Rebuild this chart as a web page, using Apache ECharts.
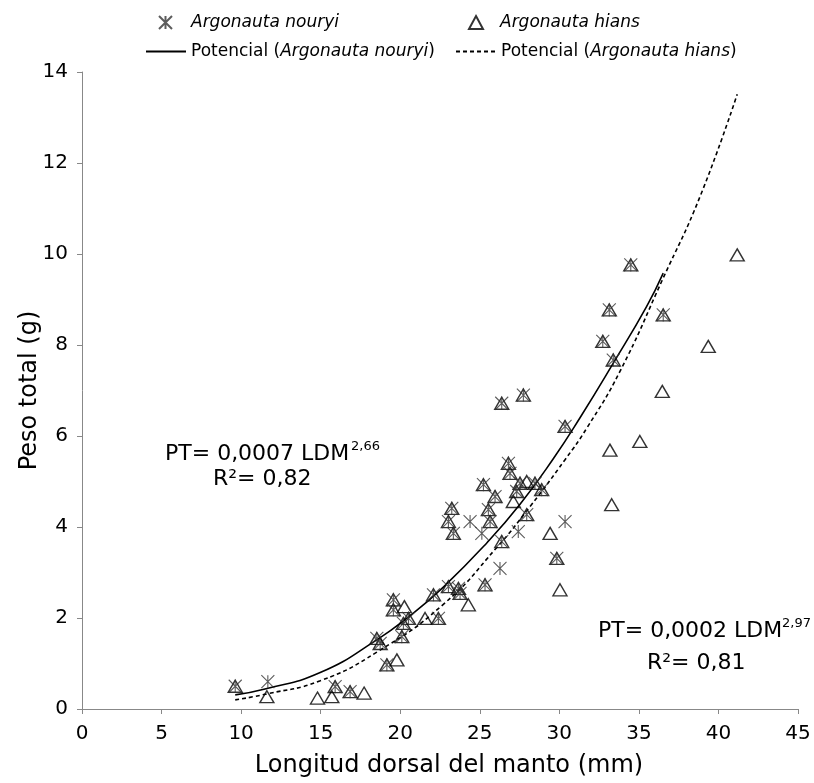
<!DOCTYPE html>
<html>
<head>
<meta charset="utf-8">
<script src="https://cdn.jsdelivr.net/npm/echarts@6/dist/echarts.min.js"></script>
<style>
html,body{margin:0;padding:0;background:#fff;}
#chart{width:814px;height:783px;}
</style>
</head>
<body>
<div id="chart"></div>
<script>
// Argonauta nouryi: [longitud dorsal del manto (mm), peso total (g)]
const nouryiPoints = [
  [9.63,0.50],[15.91,0.49],[16.85,0.38],[19.16,0.97],[18.74,1.44],[18.53,1.55],
  [19.57,2.40],[19.57,2.18],[20.52,1.99],[20.20,1.88],[20.10,1.59],[22.09,2.51],
  [22.40,1.99],[23.03,2.69],[23.66,2.65],[23.76,2.54],[26.80,5.40],[26.90,5.18],
  [25.23,4.93],[27.53,4.96],[28.47,4.96],[28.89,4.82],[27.32,4.78],[25.96,4.67],
  [23.24,4.41],[23.03,4.12],[23.34,3.86],[25.54,4.38],[25.65,4.12],[27.95,4.27],
  [26.38,3.68],[29.84,3.31],[25.33,2.73],[32.73,8.08],[33.39,7.67],[26.38,6.72],
  [27.74,6.90],[30.36,6.21],[34.49,9.76],[33.14,8.77],[36.53,8.66],
  [11.68,0.60],[24.39,4.12],[25.13,3.86],[27.42,3.90],[26.27,3.09],[30.36,4.12]
];
// Argonauta hians
const hiansPoints = [
  [9.63,0.50],[15.91,0.49],[16.85,0.38],[19.16,0.97],[18.74,1.44],[18.53,1.55],
  [19.57,2.40],[19.57,2.18],[20.52,1.99],[20.20,1.88],[20.10,1.59],[22.09,2.51],
  [22.40,1.99],[23.03,2.69],[23.66,2.65],[23.76,2.54],[26.80,5.40],[26.90,5.18],
  [25.23,4.93],[27.53,4.96],[28.47,4.96],[28.89,4.82],[27.32,4.78],[25.96,4.67],
  [23.24,4.41],[23.03,4.12],[23.34,3.86],[25.54,4.38],[25.65,4.12],[27.95,4.27],
  [26.38,3.68],[29.84,3.31],[25.33,2.73],[32.73,8.08],[33.39,7.67],[26.38,6.72],
  [27.74,6.90],[30.36,6.21],[34.49,9.76],[33.14,8.77],[36.53,8.66],
  [11.62,0.27],[14.80,0.24],[15.70,0.27],[17.73,0.35],[19.79,1.08],[20.26,2.25],
  [21.56,1.99],[24.28,2.29],[27.95,5.00],[27.11,4.56],[29.42,3.86],[30.04,2.62],
  [33.29,4.49],[33.18,5.69],[41.18,9.98],[39.36,7.97],[36.47,6.98],[35.06,5.88]
];
// Potential trend lines
const nouryiTrend = [
  [9.63,0.31],[11.5,0.44],[14.97,0.80],[18.53,1.52],[20.62,2.05],[22.71,2.68],
  [25.44,3.65],[27.53,4.50],[29.62,5.50],[31.30,6.40],[33.39,7.60],[35.49,8.85],[36.53,9.58]
];
const hiansTrend = [
  [9.63,0.20],[11.6,0.33],[14.97,0.62],[18.53,1.25],[22.71,2.30],[26.07,3.55],
  [28.16,4.45],[30.36,5.48],[31.72,6.17],[33.81,7.42],[36.5,9.45],[38.84,11.26],[41.18,13.51]
];
const seriesNames = ['Argonauta nouryi','Argonauta hians','Potencial (Argonauta nouryi)','Potencial (Argonauta hians)'];
const xTitle = 'Longitud dorsal del manto (mm)';
const yTitle = 'Peso total (g)';
const eq1 = ['PT= 0,0007 LDM', '2,66', 'R²= 0,82'];
const eq2 = ['PT= 0,0002 LDM', '2,97', 'R²= 0,81'];

const FONT = 'DejaVu Sans';
const asterisk = 'path://M0,0L10,10M10,0L0,10M5,0L5,10';
const chart = echarts.init(document.getElementById('chart'));

function legendFmt(name){
  const m = name.match(/^Potencial \((.*)\)$/);
  if (m) return '{n|Potencial (}{i|' + m[1] + '}{n|)}';
  return '{i|' + name + '}';
}
function mkLegend(name, left, top, iw, pad, isLine){
  const lg = {
    data:[name], left:left, top:top, padding:0, itemWidth:iw, itemHeight:13,
    selectedMode:false, formatter: legendFmt,
    textStyle:{fontFamily:FONT, fontSize:17, color:'#000', padding:[0,0,0,pad],
      rich:{ i:{fontFamily:FONT,fontSize:17,fontStyle:'italic',color:'#000'},
             n:{fontFamily:FONT,fontSize:17,color:'#000'} } }
  };
  if (isLine) lg.itemStyle = {opacity:0};
  return lg;
}
const axisColor = '#888';
chart.setOption({
  animation:false,
  textStyle:{fontFamily:FONT},
  grid:{left:82,right:16,top:72,bottom:73},
  legend:[
    mkLegend(seriesNames[0],158,14,13,14,false),
    mkLegend(seriesNames[1],468,14,14,12,false),
    mkLegend(seriesNames[2],145,43,40,0,true),
    mkLegend(seriesNames[3],455,43,40,0,true)
  ],
  xAxis:{type:'value',min:0,max:45,interval:5,
    name:xTitle,nameLocation:'middle',nameGap:45,
    nameTextStyle:{fontFamily:FONT,fontSize:24,color:'#000',padding:[0,0,0,18]},
    axisLine:{show:true,lineStyle:{color:axisColor,width:1}},
    axisTick:{show:true,length:5,lineStyle:{color:axisColor}},
    axisLabel:{fontFamily:FONT,fontSize:20,color:'#000',margin:15},
    splitLine:{show:false}},
  yAxis:{type:'value',min:0,max:14,interval:2,
    name:yTitle,nameLocation:'middle',nameGap:40,nameMoveOverlap:false,
    nameTextStyle:{fontFamily:FONT,fontSize:24,color:'#000'},
    axisLine:{show:true,lineStyle:{color:axisColor,width:1}},
    axisTick:{show:true,length:5,lineStyle:{color:axisColor}},
    axisLabel:{fontFamily:FONT,fontSize:20,color:'#000',margin:14},
    splitLine:{show:false}},
  series:[
    {name:seriesNames[2],type:'line',data:nouryiTrend,smooth:0.5,symbol:'none',
      lineStyle:{color:'#000',width:1.6,type:'solid'},z:1,silent:true},
    {name:seriesNames[3],type:'line',data:hiansTrend,smooth:0.5,symbol:'none',
      lineStyle:{color:'#000',width:1.6,type:[4,3]},z:1,silent:true},
    {name:seriesNames[1],type:'scatter',data:hiansPoints,symbol:'triangle',symbolSize:[14,12],
      itemStyle:{color:'rgba(255,255,255,0)',borderColor:'#000',borderWidth:1.4},z:2,silent:true},
    {name:seriesNames[0],type:'scatter',data:nouryiPoints,symbol:asterisk,symbolSize:13,
      itemStyle:{color:'rgba(255,255,255,0)',borderColor:'#333',borderWidth:1.1},z:3,silent:true}
  ],
  graphic:[
    {type:'text',left:165,top:443,style:{text:eq1[0],font:'22px "DejaVu Sans"',fill:'#000'}},
    {type:'text',left:351,top:440,style:{text:eq1[1],font:'13px "DejaVu Sans"',fill:'#000'}},
    {type:'text',left:213,top:468,style:{text:eq1[2],font:'22px "DejaVu Sans"',fill:'#000'}},
    {type:'text',left:598,top:620,style:{text:eq2[0],font:'22px "DejaVu Sans"',fill:'#000'}},
    {type:'text',left:782,top:617,style:{text:eq2[1],font:'13px "DejaVu Sans"',fill:'#000'}},
    {type:'text',left:647,top:652,style:{text:eq2[2],font:'22px "DejaVu Sans"',fill:'#000'}}
  ]
});
</script>
</body>
</html>
